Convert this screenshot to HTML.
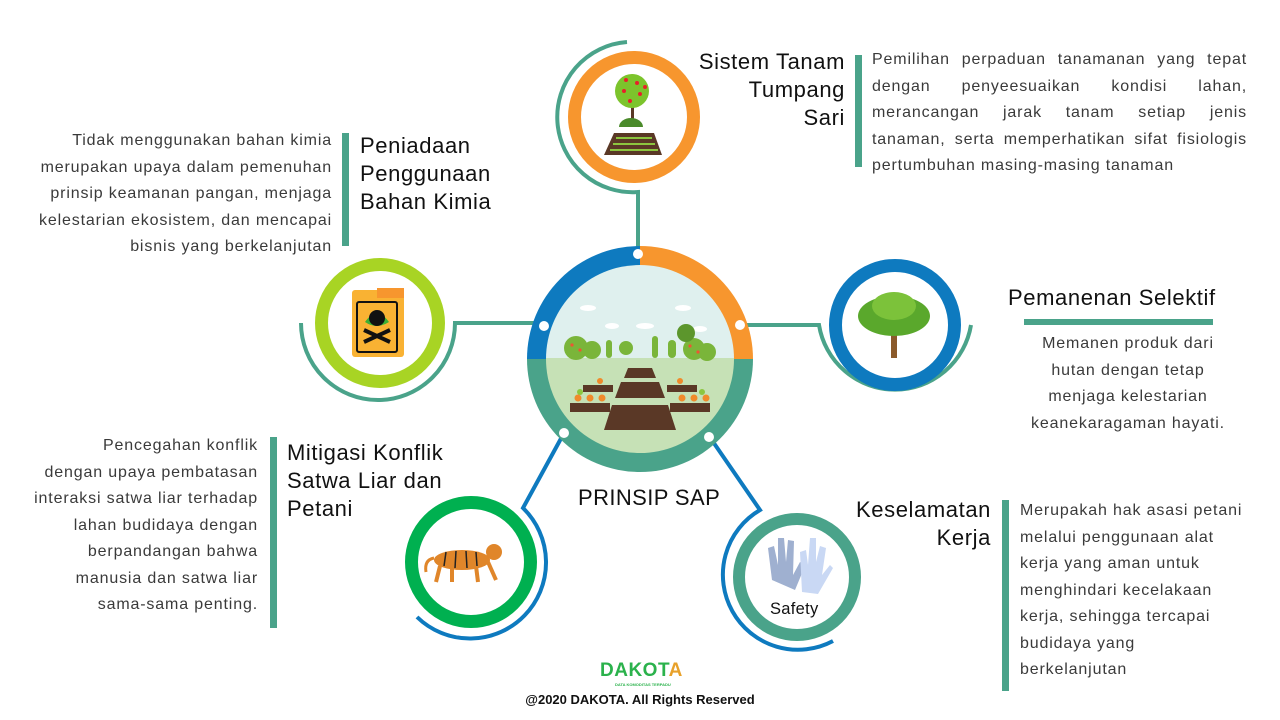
<!DOCTYPE html>
<html><head><meta charset="utf-8"><style>
body{margin:0;width:1280px;height:720px;background:#fff;position:relative;overflow:hidden;font-family:"Liberation Sans",sans-serif;color:#2a2a2a}
.t{position:absolute;white-space:nowrap;font-size:16px;letter-spacing:0.85px;color:#3a3a3a;line-height:26.5px}
.h{position:absolute;white-space:nowrap;font-size:22px;letter-spacing:0.6px;color:#111;line-height:28px}
.bar{position:absolute;background:#4aa38a;width:7px}
.r{text-align:right}
.j div{text-align:justify;text-align-last:justify}
svg{position:absolute;left:0;top:0}
</style></head><body>
<svg width="1280" height="720" viewBox="0 0 1280 720">
<g fill="none" stroke-width="4">
<path d="M627 42 A75 75 0 1 0 638 192 L638 250" stroke="#4aa38a"/>
<path d="M301 323 A77 77 0 0 0 455 323 L540 323" stroke="#4aa38a"/>
<path d="M741 325 L819 325 A77 77 0 0 0 971 325" stroke="#4aa38a"/>
<path d="M564 433 L523 508 A75 75 0 1 1 417 617" stroke="#0e7abf"/>
<path d="M709 436 L760 510 A75 75 0 0 0 833 641" stroke="#0e7abf"/>
</g>
<path d="M527 359 A113 113 0 0 1 640 246 L640 359Z" fill="#0e7abf"/>
<path d="M640 246 A113 113 0 0 1 753 359 L640 359Z" fill="#f7962e"/>
<path d="M527 359 A113 113 0 0 0 753 359Z" fill="#4aa38a"/>
<clipPath id="cc"><circle cx="640" cy="359" r="94"/></clipPath>
<g clip-path="url(#cc)">
<rect x="540" y="260" width="200" height="100" fill="#dff0ee"/>
<rect x="540" y="358" width="200" height="100" fill="#c6e1b6"/>
<g fill="#fff"><ellipse cx="588" cy="308" rx="8" ry="3"/><ellipse cx="645" cy="326" rx="9" ry="3"/><ellipse cx="683" cy="308" rx="8" ry="3"/><ellipse cx="612" cy="326" rx="7" ry="3"/><ellipse cx="700" cy="329" rx="7" ry="3"/></g>
<g fill="#7ab53a"><circle cx="576" cy="348" r="12"/><circle cx="592" cy="350" r="9"/><circle cx="694" cy="349" r="11"/><circle cx="707" cy="352" r="9"/><rect x="606" y="340" width="6" height="18" rx="3"/><rect x="652" y="336" width="6" height="22" rx="3"/><rect x="668" y="340" width="8" height="18" rx="4"/><circle cx="686" cy="333" r="9" fill="#5c962c"/><circle cx="626" cy="348" r="7"/></g>
<g fill="#e53"><circle cx="572" cy="345" r="1.6"/><circle cx="580" cy="350" r="1.6"/><circle cx="690" cy="346" r="1.6"/><circle cx="698" cy="352" r="1.6"/></g>
<g fill="#5a3826"><polygon points="628,368 652,368 656,378 624,378"/><polygon points="621,382 659,382 665,398 615,398"/><polygon points="612,405 668,405 676,430 604,430"/><rect x="570" y="403" width="40" height="9"/><rect x="670" y="403" width="40" height="9"/><rect x="583" y="385" width="30" height="7"/><rect x="667" y="385" width="30" height="7"/></g>
<g fill="#f08a2a"><circle cx="578" cy="398" r="3.5"/><circle cx="590" cy="398" r="3.5"/><circle cx="602" cy="398" r="3.5"/><circle cx="682" cy="398" r="3.5"/><circle cx="694" cy="398" r="3.5"/><circle cx="706" cy="398" r="3.5"/><circle cx="600" cy="381" r="3"/><circle cx="680" cy="381" r="3"/></g>
<g fill="#8cc63f"><circle cx="580" cy="392" r="3"/><circle cx="702" cy="392" r="3"/></g>
</g>
<g fill="#fff"><circle cx="638" cy="254" r="5"/><circle cx="544" cy="326" r="5"/><circle cx="740" cy="325" r="5"/><circle cx="564" cy="433" r="5"/><circle cx="709" cy="437" r="5"/></g>
<circle cx="634" cy="117" r="59.5" fill="#fff" stroke="#f7962e" stroke-width="13"/>
<circle cx="380" cy="323" r="58.5" fill="#fff" stroke="#a8d424" stroke-width="13"/>
<circle cx="895" cy="325" r="59.5" fill="#fff" stroke="#0e7abf" stroke-width="13"/>
<circle cx="471" cy="562" r="59.5" fill="#fff" stroke="#00b050" stroke-width="13"/>
<circle cx="797" cy="577" r="58" fill="#fff" stroke="#4aa38a" stroke-width="12"/>
<rect x="631" y="88" width="3" height="35" fill="#5a3826"/>
<circle cx="632" cy="91" r="17" fill="#7cc42c"/>
<g fill="#e8202a"><circle cx="626" cy="80" r="2"/><circle cx="637" cy="83" r="2"/><circle cx="624" cy="91" r="2"/><circle cx="640" cy="94" r="2"/><circle cx="630" cy="101" r="2"/><circle cx="645" cy="87" r="2"/></g>
<path d="M619 127 A8 6 0 0 1 643 127Z" fill="#4a8a2a"/>
<polygon points="614,133 654,133 662,155 604,155" fill="#5a3826"/>
<g fill="#8cc63f"><rect x="616" y="137" width="36" height="2"/><rect x="613" y="143" width="42" height="2"/><rect x="610" y="149" width="48" height="2"/></g>
<rect x="352" y="290" width="52" height="67" rx="3" fill="#f9b233"/>
<rect x="377" y="288" width="27" height="10" fill="#f7962e"/>
<rect x="357" y="302" width="40" height="50" rx="2" fill="#f9b233" stroke="#111" stroke-width="2"/>
<path d="M365 322 Q377 305 389 322 Q377 330 365 322Z" fill="#3cb034"/>
<circle cx="377" cy="318" r="8" fill="#111"/>
<path d="M364 342 L390 330 M364 330 L390 342" stroke="#111" stroke-width="4"/>
<rect x="891" y="330" width="6" height="28" fill="#8b5a2b"/>
<ellipse cx="894" cy="316" rx="36" ry="20" fill="#5aa82c"/>
<ellipse cx="894" cy="306" rx="22" ry="14" fill="#7cc23a"/>
<ellipse cx="462" cy="560" rx="28" ry="10" fill="#e0862a"/>
<circle cx="494" cy="552" r="8" fill="#e0862a"/>
<g stroke="#e0862a" stroke-width="4"><line x1="440" y1="566" x2="436" y2="582"/><line x1="452" y1="566" x2="452" y2="582"/><line x1="476" y1="566" x2="478" y2="582"/><line x1="488" y1="562" x2="496" y2="580"/></g>
<g stroke="#222" stroke-width="1.5"><line x1="446" y1="552" x2="444" y2="566"/><line x1="456" y1="551" x2="455" y2="568"/><line x1="466" y1="551" x2="467" y2="568"/><line x1="476" y1="552" x2="477" y2="566"/></g>
<path d="M434 558 Q424 560 426 572" stroke="#e0862a" stroke-width="3" fill="none"/>
<path d="M772 580 L768 548 L774 546 L778 565 L778 538 L784 538 L786 562 L788 540 L794 541 L793 575 L800 562 L805 566 L795 590 Z" fill="#9fb0d0"/>
<path d="M802 592 L800 552 L806 550 L808 565 L810 538 L816 538 L816 562 L820 546 L826 548 L822 575 L830 565 L833 568 L818 594 Z" fill="#c9d8f4"/>
</svg>
<div class="t" style="left:770px;top:596px;font-size:16.5px;letter-spacing:0.3px;color:#111">Safety</div>

<div class="h r" style="left:600px;top:48px;width:245px">Sistem Tanam<br>Tumpang<br>Sari</div>
<div class="bar" style="left:855px;top:55px;height:112px"></div>
<div class="t j" style="left:872px;top:47px;width:375px"><div>Pemilihan perpaduan tanamanan yang tepat</div><div>dengan penyeesuaikan kondisi lahan,</div><div>merancangan jarak tanam setiap jenis</div><div>tanaman, serta memperhatikan sifat fisiologis</div><div style="text-align-last:left">pertumbuhan masing-masing tanaman</div></div>

<div class="t r" style="left:0px;top:128px;width:332px">Tidak menggunakan bahan kimia<br>merupakan upaya dalam pemenuhan<br>prinsip keamanan pangan, menjaga<br>kelestarian ekosistem, dan mencapai<br>bisnis yang berkelanjutan</div>
<div class="bar" style="left:342px;top:133px;height:113px"></div>
<div class="h" style="left:360px;top:132px">Peniadaan<br>Penggunaan<br>Bahan Kimia</div>

<div class="h" style="left:1008px;top:284px">Pemanenan Selektif</div>
<div style="position:absolute;left:1024px;top:319px;width:189px;height:6px;background:#4aa38a"></div>
<div class="t" style="left:1000px;top:331px;width:256px;text-align:center">Memanen produk dari<br>hutan dengan tetap<br>menjaga kelestarian<br>keanekaragaman hayati.</div>

<div class="t r" style="left:0px;top:433px;width:258px">Pencegahan konflik<br>dengan upaya pembatasan<br>interaksi satwa liar terhadap<br>lahan budidaya dengan<br>berpandangan bahwa<br>manusia dan satwa liar<br>sama-sama penting.</div>
<div class="bar" style="left:270px;top:437px;height:191px"></div>
<div class="h" style="left:287px;top:439px">Mitigasi Konflik<br>Satwa Liar dan<br>Petani</div>

<div class="h" style="left:578px;top:484px;font-size:22px;letter-spacing:0.4px">PRINSIP SAP</div>

<div class="h r" style="left:780px;top:496px;width:211px">Keselamatan<br>Kerja</div>
<div class="bar" style="left:1002px;top:500px;height:191px"></div>
<div class="t" style="left:1020px;top:498px">Merupakah hak asasi petani<br>melalui penggunaan alat<br>kerja yang aman untuk<br>menghindari kecelakaan<br>kerja, sehingga tercapai<br>budidaya yang<br>berkelanjutan</div>

<div style="position:absolute;left:600px;top:660px;font-weight:bold;font-size:19px;color:#2bb24c;letter-spacing:0.5px">DAKOT<span style="color:#e8a12a">A</span></div>
<div style="position:absolute;left:615px;top:682px;font-size:4px;color:#2bb24c;font-weight:bold">DATA KOMODITAS TERPADU</div>
<div style="position:absolute;left:0;width:1280px;top:692px;text-align:center;font-weight:bold;font-size:13px;color:#111">@2020 DAKOTA. All Rights Reserved</div>
</body></html>
